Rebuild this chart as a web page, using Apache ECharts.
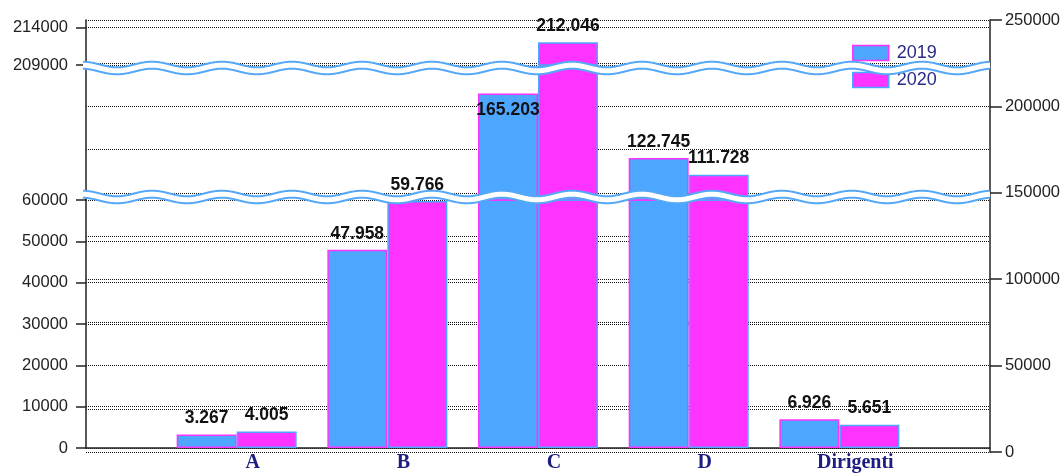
<!DOCTYPE html>
<html><head><meta charset="utf-8">
<script src="https://cdn.jsdelivr.net/npm/echarts@6/dist/echarts.min.js"></script>
<style>html,body{margin:0;padding:0;background:#fff}#c{width:1063px;height:473px}</style>
</head><body><div id="c"></div>
<script>
// ---- data ----
const categories = ['A', 'B', 'C', 'D', 'Dirigenti'];
const seriesNames = ['2019', '2020'];
const values2019 = [3267, 47958, 165203, 122745, 6926];
const values2020 = [4005, 59766, 212046, 111728, 5651];
const lowTicks = [0, 10000, 20000, 30000, 40000, 50000, 60000];
const highTicks = [209000, 214000];
const rightTicks = [0, 50000, 100000, 150000, 200000, 250000];
// broken left axis: three value ranges (bottom, middle, top)
const segments = [[0, 60000], [95000, 184000], [209000, 215000]];

const BLUE = '#4da6ff', MAGENTA = '#ff33ff';
const fillColors = [BLUE, MAGENTA];
const borderColors = [MAGENTA, BLUE];
const fmt = v => String(v).replace(/\B(?=(\d{3})+(?!\d))/g, '.');

const chart = echarts.init(document.getElementById('c'), null, {renderer: 'canvas'});
const L = 86, R = 73;
const grids = [
  {left: L, right: R, top: 200, bottom: 21},
  {left: L, right: R, top: 65, bottom: 273},
  {left: L, right: R, top: 20, bottom: 408},
  {left: L, right: R, top: 20, bottom: 21}
];
const xData = [''].concat(categories, ['']);
const axisFont = {fontFamily: 'Liberation Sans', fontSize: 16.5, color: '#222', formatter: v => String(v)};
const dotted = {show: true, lineStyle: {color: '#111', type: [1, 1], width: 1}};

const xAxes = grids.map((g, i) => ({
  type: 'category', gridIndex: i, data: xData, boundaryGap: false,
  show: i === 0,
  axisLine: {show: true, lineStyle: {color: '#222', width: 1.5}},
  axisTick: {show: false},
  splitLine: {show: false},
  axisLabel: {interval: 0, margin: 5, padding: [0, 0, 0, 32],
    fontFamily: 'Liberation Serif', fontWeight: 'bold', fontSize: 20, color: '#1c1c82'}
}));

const yAxes = [
  {type: 'value', gridIndex: 0, min: segments[0][0], max: segments[0][1], interval: 10000,
   axisLine: {show: true, lineStyle: {color: '#222', width: 1.5}},
   axisTick: {show: true, length: 10, lineStyle: {color: '#222', width: 1.5}},
   axisLabel: Object.assign({margin: 18, customValues: lowTicks}, axisFont),
   splitLine: dotted},
  {type: 'value', gridIndex: 1, min: segments[1][0], max: segments[1][1],
   axisLine: {show: true, lineStyle: {color: '#222', width: 1.5}},
   axisTick: {show: false}, axisLabel: {show: false}, splitLine: {show: false}},
  {type: 'value', gridIndex: 2, min: segments[2][0], max: segments[2][1],
   axisLine: {show: true, lineStyle: {color: '#222', width: 1.5}},
   axisTick: {show: true, length: 10, customValues: highTicks, lineStyle: {color: '#222', width: 1.5}},
   axisLabel: Object.assign({margin: 18, customValues: highTicks}, axisFont),
   splitLine: dotted},
  {type: 'value', gridIndex: 3, position: 'right', min: 0, max: 250000, interval: 50000,
   axisLine: {show: true, lineStyle: {color: '#222', width: 1.5}},
   axisTick: {show: true, length: 12, lineStyle: {color: '#222', width: 1.5}},
   axisLabel: Object.assign({margin: 15, customValues: rightTicks}, axisFont),
   splitLine: dotted,
   minorTick: {show: false, splitNumber: 2},
   minorSplitLine: {show: true, lineStyle: {color: '#111', type: [1, 1], width: 1}}}
];

const series = [];
[values2019, values2020].forEach((vals, s) => {
  segments.forEach((seg, g) => {
    series.push({
      type: 'bar', name: seriesNames[s], xAxisIndex: g, yAxisIndex: g,
      barWidth: 60, barGap: '0%', clip: true, animation: false,
      data: [null].concat(vals.map((v, i) => {
        // original chart draws the C/2019 label inside the bar top
        if (s === 0 && categories[i] === 'C') return {value: v, label: {offset: [0, 33]}};
        return v;
      }), [null]),
      itemStyle: {color: fillColors[s], borderColor: borderColors[s], borderWidth: 1.5},
      label: {
        show: true, position: 'top', distance: 7,
        fontFamily: 'Liberation Sans', fontWeight: 'bold', fontSize: 17.5, color: '#111',
        formatter: p => (p.value != null && p.value >= seg[0] && p.value <= seg[1]) ? fmt(p.value) : ''
      }
    });
  });
});

chart.setOption({
  animation: false,
  grid: grids,
  xAxis: xAxes,
  yAxis: yAxes,
  legend: {
    data: seriesNames.map((n, s) => ({name: n, itemStyle: {color: fillColors[s], borderColor: borderColors[s], borderWidth: 1.5}})),
    orient: 'vertical', left: 852, top: 44, padding: 0, itemWidth: 36, itemHeight: 15, itemGap: 9,
    icon: 'rect', selectedMode: false,
    textStyle: {fontFamily: 'Liberation Sans', fontSize: 18, color: '#2a2a88', padding: [0, 0, 0, 3]}
  },
  series: series
});

// wavy break markers drawn at the segment joints
function wave(cy) {
  const pts = [];
  const x0 = L - 3, x1 = chart.getWidth() - R;
  for (let x = x0; x <= x1; x += 1) {
    pts.push([x, cy - 2.8 * Math.cos(2 * Math.PI * (x - 152) / 70)]);
  }
  return pts;
}
const yLow = chart.convertToPixel({yAxisIndex: 0}, segments[0][1]) - 3;
const yHigh = chart.convertToPixel({yAxisIndex: 2}, segments[2][0]) + 3;
const els = [];
[yLow, yHigh].forEach(cy => {
  const pts = wave(cy);
  els.push({type: 'polyline', z: 100, silent: true, shape: {points: pts}, style: {stroke: '#55a8f8', lineWidth: 9, fill: null}});
  els.push({type: 'polyline', z: 101, silent: true, shape: {points: pts}, style: {stroke: '#ffffff', lineWidth: 5, fill: null}});
});
chart.setOption({graphic: {elements: els}});
</script>
</body></html>
